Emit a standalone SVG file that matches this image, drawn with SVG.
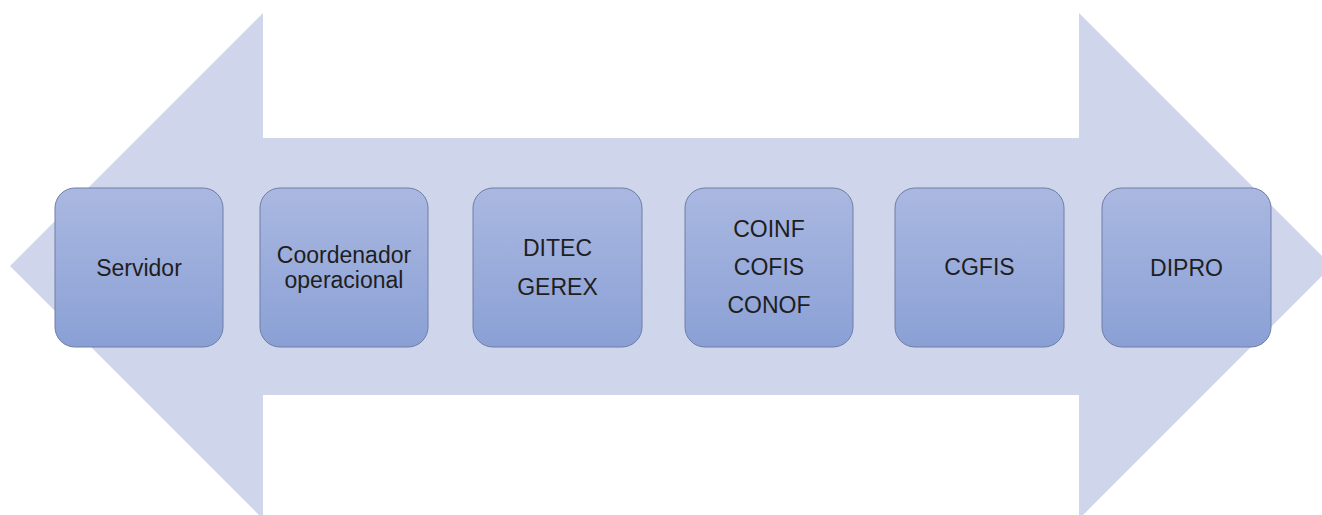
<svg xmlns="http://www.w3.org/2000/svg" width="1322" height="515" viewBox="0 0 1322 515">
  <defs>
    <linearGradient id="boxGrad" x1="0" y1="0" x2="0" y2="1">
      <stop offset="0" stop-color="#aab8e1"/>
      <stop offset="1" stop-color="#8aa0d5"/>
    </linearGradient>
    <style>
      .box { fill: url(#boxGrad); stroke: #6f7ea6; stroke-width: 1; }
      .lbl { font-family: "Liberation Sans", Arial, sans-serif; font-size: 23px; fill: #1e1e1e; text-anchor: middle; }
      .arrow { fill: #cfd5ea; }
    </style>
  </defs>
  <rect width="1322" height="515" fill="#ffffff"/>
  <g id="connectors">
    <polygon class="arrow" points="10,266 263,13 263,138 1079,138 1079,13 1332,266 1079,519 1079,395 263,395 263,519"/>
  </g>
  <g id="node-servidor">
    <rect class="box" x="55" y="188" width="168" height="159" rx="20" ry="20"/>
    <text class="lbl" x="139" y="276">Servidor</text>
  </g>
  <g id="node-coordenador">
    <rect class="box" x="260" y="188" width="168" height="159" rx="20" ry="20"/>
    <text class="lbl" x="344" y="263">Coordenador</text>
    <text class="lbl" x="344" y="288">operacional</text>
  </g>
  <g id="node-ditec">
    <rect class="box" x="473" y="188" width="169" height="159" rx="20" ry="20"/>
    <text class="lbl" x="557.5" y="256">DITEC</text>
    <text class="lbl" x="557.5" y="295">GEREX</text>
  </g>
  <g id="node-coinf">
    <rect class="box" x="685" y="188" width="168" height="159" rx="20" ry="20"/>
    <text class="lbl" x="769" y="237">COINF</text>
    <text class="lbl" x="769" y="275">COFIS</text>
    <text class="lbl" x="769" y="313">CONOF</text>
  </g>
  <g id="node-cgfis">
    <rect class="box" x="895" y="188" width="169" height="159" rx="20" ry="20"/>
    <text class="lbl" x="979.5" y="275">CGFIS</text>
  </g>
  <g id="node-dipro">
    <rect class="box" x="1102" y="188" width="169" height="159" rx="20" ry="20"/>
    <text class="lbl" x="1186.5" y="276">DIPRO</text>
  </g>
</svg>
